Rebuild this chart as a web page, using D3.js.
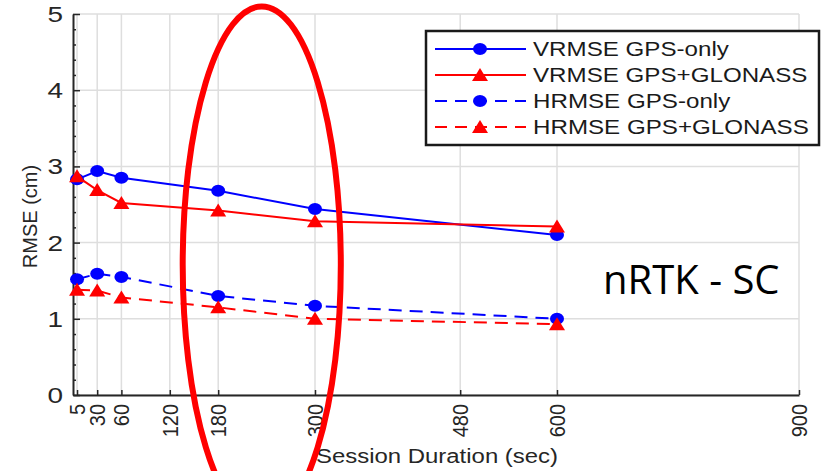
<!DOCTYPE html>
<html lang="en">

<head>
    <meta charset="utf-8">
    <title>RMSE vs session duration</title>
    <script src="https://d3js.org/d3.v7.min.js"></script>
    <style>
        body { margin: 0; background: #fff; }
        text { font-family: "Liberation Sans", Arial, sans-serif; fill: #262626; }
    </style>
</head>

<body>
    <script>
        // values
        const durations = [5, 30, 60, 180, 300, 600]
        const vrmseGps = [2.83, 2.94, 2.85, 2.68, 2.44, 2.10]
        const vrmseGlo = [2.87, 2.69, 2.52, 2.42, 2.28, 2.21]
        const hrmseGps = [1.52, 1.59, 1.55, 1.30, 1.17, 1.00]
        const hrmseGlo = [1.38, 1.37, 1.28, 1.15, 1.00, 0.93]

        const xTicks = [5, 30, 60, 120, 180, 300, 480, 600, 900]
        const yTicks = [0, 1, 2, 3, 4, 5]
        const seriesNames = ['VRMSE GPS-only', 'VRMSE GPS+GLONASS', 'HRMSE GPS-only', 'HRMSE GPS+GLONASS']

        const m = { width: 821, height: 471, top: 14, right: 22, bottom: 76, left: 73 }
        const SX = 1.27 // the picture is stretched sideways

        const series = [
            { name: seriesNames[0], values: vrmseGps, color: '#0000ff', dashed: false, marker: 'circle' },
            { name: seriesNames[1], values: vrmseGlo, color: '#ff0000', dashed: false, marker: 'triangle' },
            { name: seriesNames[2], values: hrmseGps, color: '#0000ff', dashed: true, marker: 'circle' },
            { name: seriesNames[3], values: hrmseGlo, color: '#ff0000', dashed: true, marker: 'triangle' }
        ]

        const svg = d3.select('body').append('svg')
            .attr('width', m.width)
            .attr('height', m.height)

        const x = d3.scaleLinear().domain([0, 900]).range([m.left, m.width - m.right])
        const y = d3.scaleLinear().domain([0, 5]).range([m.height - m.bottom, m.top])

        // grid
        svg.append('g').selectAll('line')
            .data(xTicks)
            .enter().append('line')
            .attr('x1', d => x(d)).attr('x2', d => x(d))
            .attr('y1', y(0)).attr('y2', y(5))
            .attr('stroke', '#dedede').attr('stroke-width', 1.5)
        svg.append('g').selectAll('line')
            .data(yTicks)
            .enter().append('line')
            .attr('x1', x(0)).attr('x2', x(900))
            .attr('y1', d => y(d)).attr('y2', d => y(d))
            .attr('stroke', '#dedede').attr('stroke-width', 1.5)

        // x axis (ticks point inward)
        const xAxis = svg.append('g')
            .attr('transform', `translate(0,${y(0)})`)
            .call(d3.axisBottom(x).tickValues(xTicks).tickSize(-5).tickSizeOuter(0).tickFormat(''))
        xAxis.select('.domain').attr('stroke', '#262626').attr('stroke-width', 2)
        xAxis.selectAll('.tick line').attr('stroke', '#262626').attr('stroke-width', 1.5)

        svg.append('g').selectAll('text')
            .data(xTicks)
            .enter().append('text')
            .attr('transform', d => `translate(${x(d)},${y(0) + 9}) scale(1.08,1) rotate(-90)`)
            .attr('text-anchor', 'end')
            .attr('dy', '0.36em')
            .style('font-size', '20px')
            .text(d => d)

        // y axis with minor ticks
        const yAxis = svg.append('g')
            .attr('transform', `translate(${x(0)},0)`)
            .call(d3.axisRight(y).ticks(25).tickSize(3).tickSizeOuter(0).tickFormat(''))
        yAxis.select('.domain').attr('stroke', '#262626').attr('stroke-width', 2)
        yAxis.selectAll('.tick line').attr('stroke', '#262626').attr('stroke-width', 1.5)
            .attr('x2', d => Number.isInteger(Math.round(d * 1000) / 1000) ? 7 : 3)

        svg.append('g').selectAll('text')
            .data(yTicks)
            .enter().append('text')
            .attr('transform', d => `translate(${x(0) - 10},${y(d)}) scale(${SX},1)`)
            .attr('text-anchor', 'end')
            .attr('dy', '0.36em')
            .style('font-size', '22px')
            .text(d => d)

        // axis titles
        svg.append('text')
            .attr('transform', `translate(30,${(y(0) + y(5)) / 2 + 12}) rotate(-90)`)
            .attr('text-anchor', 'middle')
            .attr('dy', '0.36em')
            .style('font-size', '20px')
            .text('RMSE (cm)')

        svg.append('text')
            .attr('transform', `translate(${(x(0) + x(900)) / 2 + 1},463) scale(1.14,1)`)
            .attr('text-anchor', 'middle')
            .style('font-size', '21px')
            .text('Session Duration (sec)')

        // markers
        function drawMarker(sel, kind, color) {
            if (kind === 'circle') {
                sel.append('ellipse').attr('rx', 7).attr('ry', 6).attr('fill', color)
            } else {
                sel.append('path').attr('d', 'M0,-7 L8,6 L-8,6 Z').attr('fill', color)
            }
        }

        const line = d3.line()
            .x((d, i) => x(durations[i]))
            .y(d => y(d))

        series.forEach(function (s) {
            svg.append('path')
                .datum(s.values)
                .attr('d', line)
                .attr('fill', 'none')
                .attr('stroke', s.color)
                .attr('stroke-width', 2)
                .attr('stroke-dasharray', s.dashed ? '13,8' : null)
        })
        series.forEach(function (s) {
            svg.append('g').selectAll('g')
                .data(s.values)
                .enter().append('g')
                .attr('transform', (d, i) => `translate(${x(durations[i])},${y(d)})`)
                .each(function () { drawMarker(d3.select(this), s.marker, s.color) })
        })

        // legend
        const lg = svg.append('g').attr('transform', 'translate(426,31)')
        lg.append('rect')
            .attr('width', 393).attr('height', 114)
            .attr('fill', '#fff').attr('stroke', '#1a1a1a').attr('stroke-width', 2.5)
        series.forEach(function (s, i) {
            const row = lg.append('g').attr('transform', `translate(0,${18 + i * 26})`)
            row.append('line')
                .attr('x1', 9).attr('x2', 100)
                .attr('stroke', s.color).attr('stroke-width', 2)
                .attr('stroke-dasharray', s.dashed ? '12,8' : null)
            drawMarker(row.append('g').attr('transform', 'translate(54,0)'), s.marker, s.color)
            row.append('text')
                .attr('transform', `translate(107,0) scale(1.22,1)`)
                .attr('dy', '0.36em')
                .style('font-size', '19.8px')
                .style('fill', '#1a1a1a')
                .text(s.name)
        })

        // overlay annotations
        const highlight = { cx: 234, cy: 1.71, rx: 98, ry: 3.39 }
        svg.append('ellipse')
            .attr('cx', x(highlight.cx))
            .attr('cy', y(highlight.cy))
            .attr('rx', x(highlight.rx) - x(0))
            .attr('ry', y(0) - y(highlight.ry))
            .attr('fill', 'none')
            .attr('stroke', '#ff0000')
            .attr('stroke-width', 6)

        svg.append('text')
            .attr('x', 603)
            .attr('y', 294)
            .style('font-family', '"Open Sans", sans-serif')
            .style('font-size', '40px')
            .style('fill', '#000')
            .text('nRTK - SC')
    </script>
</body>

</html>
